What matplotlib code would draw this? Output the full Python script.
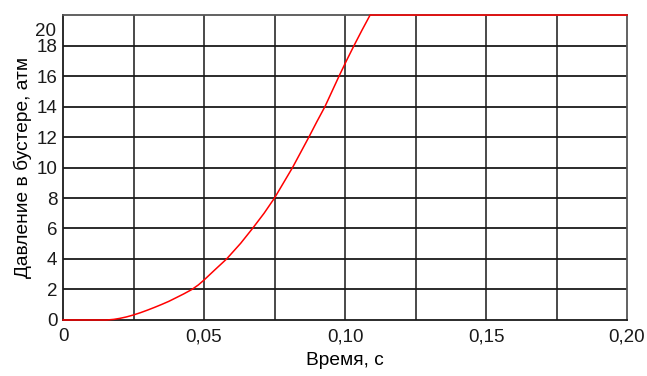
import matplotlib
matplotlib.use("Agg")
import matplotlib.pyplot as plt
import numpy as np

plt.rcParams['font.family'] = ['Liberation Sans', 'DejaVu Sans']

# booster pressure vs time
time_s = [0.0, 0.0156, 0.018, 0.02, 0.0225, 0.025, 0.0275, 0.03, 0.0325, 0.035,
          0.0375, 0.04, 0.0428, 0.0457, 0.048, 0.05, 0.0542, 0.058, 0.063,
          0.0674, 0.0713, 0.075, 0.0782, 0.0814, 0.0843, 0.0872, 0.09, 0.0929,
          0.0954, 0.0979, 0.1005, 0.1032, 0.106, 0.1089, 0.20]
pressure_atm = [0.0, 0.0, 0.04, 0.1, 0.2, 0.33, 0.48, 0.65, 0.83, 1.02,
                1.22, 1.45, 1.71, 2.0, 2.3, 2.62, 3.35, 4.0, 5.03,
                6.05, 7.0, 8.0, 9.0, 10.0, 11.0, 12.0, 13.0, 14.0,
                15.0, 16.0, 17.0, 18.0, 19.0, 20.0, 20.0]

x_ticks = [0, 0.05, 0.10, 0.15, 0.20]
x_tick_labels = ['0', '0,05', '0,10', '0,15', '0,20']
x_grid = np.arange(0.025, 0.2, 0.025)
y_ticks = list(range(0, 21, 2))

fig = plt.figure(figsize=(6.47, 3.76), dpi=100)
ax = fig.add_axes([0.0974, 0.149, 0.8717, 0.811])

for xg in x_grid:
    ax.axvline(xg, color='#3a3a3a', lw=1.3, zorder=1)
for yg in y_ticks[1:-1]:
    ax.axhline(yg, color='#1a1a1a', lw=1.3, zorder=1)

ax.plot(time_s, pressure_atm, color='red', lw=1.1, zorder=3, clip_on=False)

ax.set_xlim(0, 0.2)
ax.set_ylim(0, 20)
ax.set_xticks(x_ticks)
ax.set_xticklabels(x_tick_labels)
ax.set_yticks(y_ticks)
ax.set_yticklabels([str(v) for v in y_ticks[:-1]] + [''])
# top label sits a bit below the frame edge
ax.annotate(str(y_ticks[-1]), xy=(0, y_ticks[-1]), xytext=(-5, -12),
            textcoords='offset points', ha='right', va='center',
            fontsize=13.5, color='#1a1a1a', annotation_clip=False)

ax.tick_params(length=0, labelsize=13.5, colors='#1a1a1a')
ax.tick_params(axis='y', pad=4)
ax.tick_params(axis='x', pad=6)

for side in ['left', 'bottom']:
    ax.spines[side].set_color('#1a1a1a')
    ax.spines[side].set_linewidth(1.3)
for side in ['top', 'right']:
    ax.spines[side].set_color('#555555')
    ax.spines[side].set_linewidth(1.3)

ax.set_xlabel('Время, с', fontsize=13.8, labelpad=5)
ax.set_ylabel('Давление в бустере, атм', fontsize=13.8, labelpad=3)

fig.savefig('out.png', dpi=100)
